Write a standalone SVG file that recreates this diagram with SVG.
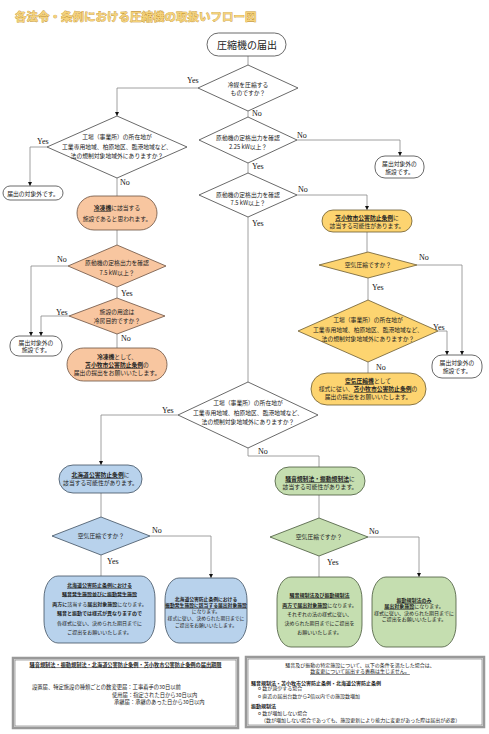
<svg xmlns="http://www.w3.org/2000/svg" width="489" height="734" viewBox="0 0 489 734">
<defs>
<style>
.t{font-family:"Noto Sans CJK JP","Noto Sans CJK SC",sans-serif;font-size:5.8px;fill:#222;text-anchor:middle}
.s{font-size:5px}
.lbl{font-family:"Liberation Serif",serif;font-size:8px;fill:#111}
.c{fill:none;stroke:#888;stroke-width:0.8}
.a{marker-end:url(#arr)}
.b{font-weight:bold}
.u{text-decoration:underline}
.w{fill:#fff;stroke:#444;stroke-width:0.8}
.or{fill:#f8c6a0;stroke:#6b5040;stroke-width:0.8}
.ye{fill:#fdd470;stroke:#6b5a30;stroke-width:0.8}
.bl{fill:#b8d2ec;stroke:#3f4f60;stroke-width:0.8}
.gr{fill:#c5deb0;stroke:#46573a;stroke-width:0.8}
.frame{fill:#fff;stroke:#999;stroke-width:2.5}
.inner{fill:none;stroke:#555;stroke-width:0.5}
</style>
<marker id="arr" viewBox="0 0 6 6" refX="6" refY="3" markerWidth="4" markerHeight="4" markerUnits="userSpaceOnUse" orient="auto"><path d="M0,0 L6,3 L0,6 z" fill="#111"/></marker>
</defs>
<rect width="489" height="734" fill="#fff"/>
<text x="15" y="21" style="font-family:'Noto Sans CJK JP',sans-serif;font-size:11.5px;font-weight:bold;fill:#f5d27a;stroke:#b8891e;stroke-width:0.6;paint-order:stroke">各法令・条例における圧縮機の取扱いフロー図</text>

<g id="connectors">
<path class="c" d="M248,56 V65"/>
<path class="c a" d="M198,88 H117 V116"/>
<path class="c" d="M248,111 V117"/>
<path class="c a" d="M47,147 H30 V186"/>
<path class="c" d="M117,178 V196"/>
<path class="c" d="M117,230 V245"/>
<path class="c a" d="M68,266 H31 V336"/>
<path class="c" d="M117,287 V298"/>
<path class="c a" d="M69,316 H41 V336"/>
<path class="c" d="M117,334 V348"/>
<path class="c a" d="M297,140 H400 V156"/>
<path class="c" d="M248,163 V173"/>
<path class="c a" d="M297,195 H367 V210"/>
<path class="c" d="M248,217 V382"/>
<path class="c" d="M367,232 V252"/>
<path class="c a" d="M417,265 H462 V355"/>
<path class="c" d="M368,278 V300"/>
<path class="c a" d="M438,331 H447 V355"/>
<path class="c" d="M368,362 V373"/>
<path class="c a" d="M178,415 H101 V465"/>
<path class="c" d="M248,448 V456 H319 V467"/>
<path class="c" d="M101,493 V517"/>
<path class="c a" d="M150,536 H211 V578"/>
<path class="c" d="M101,555 V576"/>
<path class="c" d="M319,495 V518"/>
<path class="c a" d="M368,537 H419 V577"/>
<path class="c" d="M319,556 V577"/>
</g>

<g id="labels">
<text class="lbl" x="187" y="83">Yes</text>
<text class="lbl" x="252" y="116">No</text>
<text class="lbl" x="37" y="144">Yes</text>
<text class="lbl" x="120" y="185">No</text>
<text class="lbl" x="297" y="138">No</text>
<text class="lbl" x="252" y="169">Yes</text>
<text class="lbl" x="298" y="192">No</text>
<text class="lbl" x="252" y="226">Yes</text>
<text class="lbl" x="57" y="262">No</text>
<text class="lbl" x="121" y="296">Yes</text>
<text class="lbl" x="56" y="315">Yes</text>
<text class="lbl" x="121" y="341">No</text>
<text class="lbl" x="419" y="260">No</text>
<text class="lbl" x="372" y="290">Yes</text>
<text class="lbl" x="433" y="330">Yes</text>
<text class="lbl" x="376" y="370">No</text>
<text class="lbl" x="162" y="413">Yes</text>
<text class="lbl" x="258" y="454">No</text>
<text class="lbl" x="152" y="533">No</text>
<text class="lbl" x="107" y="564">Yes</text>
<text class="lbl" x="369" y="534">No</text>
<text class="lbl" x="327" y="565">Yes</text>
</g>

<g id="start"><rect class="w" x="207" y="33" width="79" height="23" rx="11.5"/><text class="t" x="247" y="48.5" style="font-size:10px">圧縮機の届出</text></g>

<g id="d1"><polygon class="w" points="248,65 298,88 248,111 198,88"/><text class="t" x="248" y="87">冷媒を圧縮する</text><text class="t" x="248" y="94.5">ものですか？</text></g>

<g id="d2"><polygon class="w" points="117,116 187,147 117,178 47,147"/><text class="t" x="117" y="139">工場（事業所）の所在地が</text><text class="t" x="117" y="149">工業専用地域、柏原地区、臨港地域など、</text><text class="t" x="117" y="157.5">法の規制対象地域外にありますか？</text></g>

<g id="out1"><rect class="w" x="3" y="186" width="60" height="14" rx="7"/><text class="t" x="33" y="195.5">届出の対象外です。</text></g>

<g id="d3"><polygon class="w" points="248,117 297,140 248,163 199,140"/><text class="t" x="248" y="140">原動機の定格出力を確認</text><text class="t" x="248" y="148.5">2.25 kW以上？</text></g>

<g id="out2"><rect class="w" x="375" y="156" width="49" height="22" rx="10"/><text class="t" x="399.5" y="165.5">届出対象外の</text><text class="t" x="399.5" y="174">施設です。</text></g>

<g id="o1"><rect class="or" x="77" y="196" width="80" height="34" rx="17"/><text class="t" x="117" y="210"><tspan class="b u">冷凍機</tspan>に該当する</text><text class="t" x="117" y="221">施設であると思われます。</text></g>

<g id="d4"><polygon class="or" points="117,245 166,266 117,287 68,266"/><text class="t" x="117" y="265">原動機の定格出力を確認</text><text class="t" x="117" y="275">7.5 kW以上？</text></g>

<g id="d5"><polygon class="or" points="117,298 165,316 117,334 69,316"/><text class="t" x="117" y="314">施設の用途は</text><text class="t" x="117" y="322.5">冷房目的ですか？</text></g>

<g id="out3"><rect class="w" x="10" y="336" width="52" height="20" rx="9"/><text class="t" x="36" y="344.5">届出対象外の</text><text class="t" x="36" y="352">施設です。</text></g>

<g id="o2"><rect class="or" x="67" y="348" width="100" height="33" rx="16.5"/><text class="t" x="117" y="359"><tspan class="b">冷凍機</tspan>として、</text><text class="t" x="117" y="367"><tspan class="b u">苫小牧市公害防止条例</tspan>の</text><text class="t" x="117" y="375">届出の提出をお願いいたします。</text></g>

<g id="d6"><polygon class="w" points="248,173 297,195 248,217 199,195"/><text class="t" x="248" y="197">原動機の定格出力を確認</text><text class="t" x="248" y="204.5">7.5 kW以上？</text></g>

<g id="y1"><rect class="ye" x="322" y="210" width="90" height="22" rx="11"/><text class="t" x="367" y="220"><tspan class="b u">苫小牧市公害防止条例</tspan>に</text><text class="t" x="367" y="228">該当する可能性があります。</text></g>

<g id="d7"><polygon class="ye" points="368,252 417,265 368,278 319,265"/><text class="t" x="368" y="267">空気圧縮ですか？</text></g>

<g id="d8"><polygon class="ye" points="368,300 438,331 368,362 298,331"/><text class="t" x="368" y="322">工場（事業所）の所在地が</text><text class="t" x="368" y="332">工業専用地域、柏原地区、臨港地域など、</text><text class="t" x="368" y="341">法の規制対象地域外にありますか？</text></g>

<g id="out4"><rect class="w" x="432" y="355" width="50" height="23" rx="10"/><text class="t" x="457" y="365">届出対象外の</text><text class="t" x="457" y="373">施設です。</text></g>

<g id="y2"><rect class="ye" x="311" y="373" width="115" height="32" rx="16"/><text class="t" x="368" y="383"><tspan class="b u">空気圧縮機</tspan>として</text><text class="t" x="368" y="391">様式に従い、<tspan class="b u">苫小牧市公害防止条例</tspan>の</text><text class="t" x="368" y="399">届出の提出をお願いいたします。</text></g>

<g id="d9"><polygon class="w" points="248,382 318,415 248,448 178,415"/><text class="t" x="248" y="405">工場（事業所）の所在地が</text><text class="t" x="248" y="414.5">工業専用地域、柏原地区、臨港地域など、</text><text class="t" x="248" y="423.5">法の規制対象地域外にありますか？</text></g>

<g id="bl1"><rect class="bl" x="59" y="465" width="83" height="28" rx="14"/><text class="t" x="100.5" y="477"><tspan class="b u">北海道公害防止条例</tspan>に</text><text class="t" x="100.5" y="485">該当する可能性があります。</text></g>

<g id="d10"><polygon class="bl" points="101,517 150,536 101,555 52,536"/><text class="t" x="101" y="538">空気圧縮ですか？</text></g>

<g id="bl2"><rect class="bl" x="44" y="576" width="111" height="67" rx="14" ry="22"/>
<text class="t s" x="99.5" y="587"><tspan class="b u">北海道公害防止条例における</tspan></text>
<text class="t s" x="99.5" y="595.5"><tspan class="b u">騒音発生施設並びに振動発生施設</tspan></text>
<text class="t s" x="99.5" y="606"><tspan class="b">両方に</tspan>該当する<tspan class="b">届出対象施設</tspan>になります。</text>
<text class="t s b" x="99.5" y="615">騒音と振動では様式が異なりますので</text>
<text class="t s" x="99.5" y="625">各様式に従い、決められた期日までに</text>
<text class="t s" x="99.5" y="634">ご提出をお願いいたします。</text></g>

<g id="bl3"><rect class="bl" x="165" y="578" width="82" height="65" rx="14" ry="22"/>
<text class="t" x="206" y="601" style="font-size:4.8px"><tspan class="b">北海道公害防止条例における</tspan></text>
<text class="t" x="206" y="607" style="font-size:4.8px"><tspan class="b u">振動発生施設に該当する届出対象施設</tspan></text>
<text class="t" x="206" y="613" style="font-size:4.8px">になります。</text>
<text class="t" x="206" y="620" style="font-size:4.8px">様式に従い、決められた期日までに</text>
<text class="t" x="206" y="627" style="font-size:4.8px">ご提出をお願いいたします。</text></g>

<g id="g1"><rect class="gr" x="275" y="467" width="90" height="28" rx="14"/><text class="t" x="320" y="481"><tspan class="b u">騒音規制法・振動規制法</tspan>に</text><text class="t" x="320" y="489">該当する可能性があります。</text></g>

<g id="d11"><polygon class="gr" points="319,518 368,537 319,556 270,537"/><text class="t" x="319" y="539">空気圧縮ですか？</text></g>

<g id="g2"><rect class="gr" x="277" y="577" width="85" height="70" rx="14" ry="22"/>
<text class="t s" x="319.5" y="597"><tspan class="b u">騒音規制法及び振動規制法</tspan></text>
<text class="t s" x="319.5" y="607"><tspan class="b u">両方で届出対象施設</tspan>になります。</text>
<text class="t s" x="319.5" y="616">それぞれの法の様式に従い、</text>
<text class="t s" x="319.5" y="625">決められた期日までにご提出を</text>
<text class="t s" x="319.5" y="634">お願いいたします。</text></g>

<g id="g3"><rect class="gr" x="372" y="577" width="84" height="70" rx="14" ry="22"/>
<text class="t s" x="414" y="602"><tspan class="b u">振動規制法のみ</tspan></text>
<text class="t s" x="414" y="608"><tspan class="b u">届出対象施設</tspan>になります。</text>
<text class="t s" x="414" y="614.5">様式に従い、決められた期日までに</text>
<text class="t s" x="414" y="621">ご提出をお願いいたします。</text></g>

<g id="note-left"><rect class="frame" x="13" y="658" width="225" height="70"/><rect class="inner" x="15" y="660" width="221" height="66"/>
<text class="t b u" x="125.5" y="666.5" style="font-size:5.2px">騒音規制法・振動規制法・北海道公害防止条例・苫小牧市公害防止条例の届出期限</text>
<text class="t" x="32" y="689" style="font-size:5.3px;text-anchor:start">設置届、特定施設の種類ごとの数変更届：工事着手の30日以前</text>
<text class="t" x="112" y="696.5" style="font-size:5.3px;text-anchor:start">使用届：指定された日から30日以内</text>
<text class="t" x="114" y="704" style="font-size:5.3px;text-anchor:start">承継届：承継のあった日から30日以内</text></g>

<g id="note-right"><rect class="frame" x="246" y="657" width="238" height="70"/><rect class="inner" x="248" y="659" width="234" height="66"/>
<text class="t s" x="360" y="667">騒音及び振動の特定施設について、以下の条件を満たした場合は、</text>
<text class="t s u" x="360" y="673">数変更について届出する義務は生じません。</text>
<text class="t s b" x="251" y="684.5" style="text-anchor:start">騒音規制法・苫小牧市公害防止条例・北海道公害防止条例</text>
<text class="t s" x="258" y="690" style="text-anchor:start">o  数が減少する場合</text>
<text class="t s" x="258" y="698" style="text-anchor:start">o  直近の届出台数から2倍以内での施設数増加</text>
<text class="t s b" x="251" y="708" style="text-anchor:start">振動規制法</text>
<text class="t s" x="258" y="715" style="text-anchor:start">o  数が増加しない場合</text>
<text class="t s" x="261" y="722" style="text-anchor:start">（数が増加しない場合であっても、施設更新により能力に変更があった際は届出が必要）</text></g>
</svg>
